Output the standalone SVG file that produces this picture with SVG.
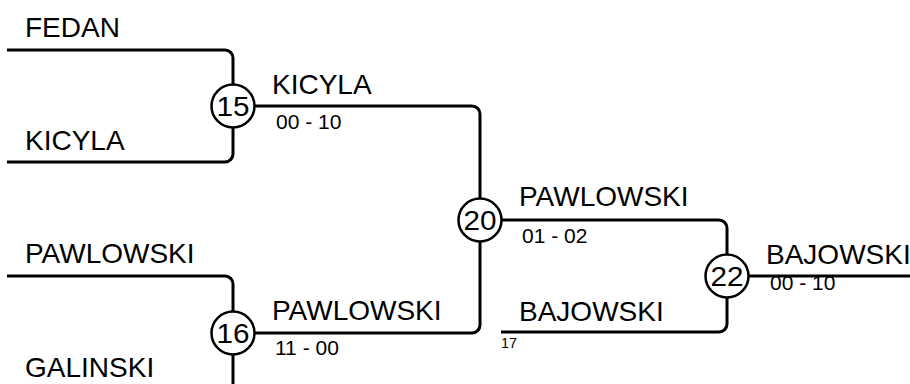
<svg xmlns="http://www.w3.org/2000/svg" width="910" height="384" viewBox="0 0 910 384">
<style>
.ln{fill:none;stroke:#000;stroke-width:3;stroke-linejoin:round}
.c{fill:#fff;stroke:#000;stroke-width:2.5}
.name{font-family:"Liberation Sans",Arial,sans-serif;font-size:28px;fill:#000}
.num{font-family:"Liberation Sans",Arial,sans-serif;font-size:27px;fill:#000;text-anchor:middle}
.score{font-family:"Liberation Sans",Arial,sans-serif;font-size:21px;fill:#000}
.seed{font-family:"Liberation Sans",Arial,sans-serif;font-size:14.5px;fill:#000}
</style>
<rect width="910" height="384" fill="#fff"/>
<g id="connectors">
<path class="ln" d="M7,50 H225 A8,8 0 0 1 233,58 V154 A8,8 0 0 1 225,162 H7"/>
<path class="ln" d="M7,276 H225 A8,8 0 0 1 233,284 V392"/>
<path class="ln" d="M233,106 H472 A8,8 0 0 1 480,114 V325 A8,8 0 0 1 472,333 H233"/>
<path class="ln" d="M480,220 H719 A8,8 0 0 1 727,228 V324 A8,8 0 0 1 719,332 H501"/>
<path class="ln" d="M727,276 H912"/>
</g>
<g id="entrants">
<text class="name" x="25" y="37">FEDAN</text>
<text class="name" x="25" y="150">KICYLA</text>
<text class="name" x="25" y="263">PAWLOWSKI</text>
<text class="name" x="25" y="377">GALINSKI</text>
</g>
<g id="match15">
<circle class="c" cx="233" cy="106" r="21.5"/>
<text class="num" transform="translate(233,115.5) scale(1.1,1)">15</text>
<text class="name" x="272" y="94">KICYLA</text>
<text class="score" x="276" y="129">00 - 10</text>
</g>
<g id="match16">
<circle class="c" cx="233" cy="333" r="21.5"/>
<text class="num" transform="translate(233,342.5) scale(1.1,1)">16</text>
<text class="name" x="272" y="320">PAWLOWSKI</text>
<text class="score" x="275" y="355">11 - 00</text>
</g>
<g id="match20">
<circle class="c" cx="480" cy="220" r="21.5"/>
<text class="num" transform="translate(480,229.5) scale(1.1,1)">20</text>
<text class="name" x="519" y="206">PAWLOWSKI</text>
<text class="score" x="522" y="243">01 - 02</text>
</g>
<g id="entrant17">
<text class="name" x="519" y="321">BAJOWSKI</text>
<text class="seed" x="501" y="347.5">17</text>
</g>
<g id="match22">
<circle class="c" cx="727" cy="276" r="21.5"/>
<text class="num" transform="translate(727,285.5) scale(1.1,1)">22</text>
<text class="name" x="766" y="264">BAJOWSKI</text>
<text class="score" x="770" y="290">00 - 10</text>
</g>
</svg>
